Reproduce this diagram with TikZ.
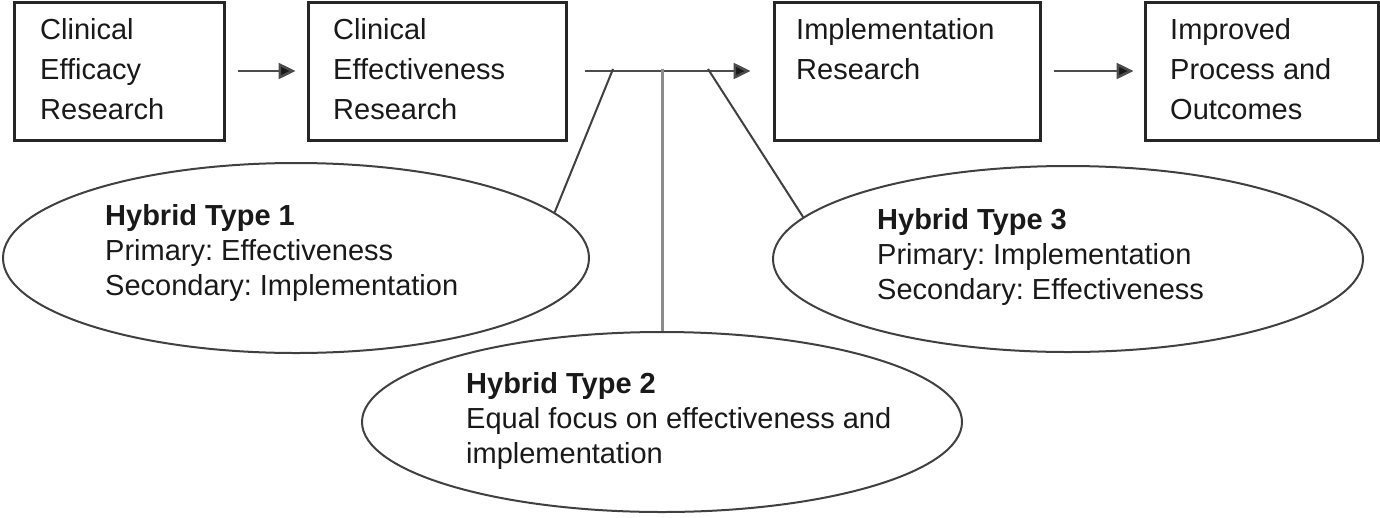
\documentclass[tikz,border=0pt]{standalone}
\usepackage{fontspec}
\setmainfont{Liberation Sans}
\frenchspacing
\usetikzlibrary{arrows.meta,shapes.geometric}
\tikzset{
  box/.style={draw=black!85, line width=3pt, rectangle, minimum height=138pt, inner sep=0pt},
  boxtxt/.style={anchor=base west, inner sep=0pt, align=left, text=black!90,
    font=\fontsize{29}{40}\selectfont},
  oval/.style={draw=black!75, line width=2pt, ellipse, inner sep=0pt},
  ovaltxt/.style={anchor=base west, inner sep=0pt, align=left, text=black!90,
    font=\fontsize{29}{35}\selectfont},
  arr/.style={draw=black!70, line width=2.5pt, -{Triangle[length=17pt,width=16pt,fill=black!90]}},
  stem/.style={draw=black!75, line width=2pt},
}
\begin{document}
\begin{tikzpicture}[x=1pt,y=-1pt]
\useasboundingbox (0,0) rectangle (1380,517);
% boxes
\node[box, minimum width=210pt] (b1) at (119,71) {};
\node[box, minimum width=258pt] (b2) at (437,71) {};
\node[box, minimum width=266pt] (b3) at (907,71) {};
\node[box, minimum width=233pt] (b4) at (1261.5,71) {};
\node[boxtxt] (t1) at (40,119) {Clinical\\Efficacy\\Research};
\node[boxtxt] (t2) at (333,119) {Clinical\\Effectiveness\\Research};
\node[boxtxt] (t3) at (796,79) {Implementation\\Research};
\node[boxtxt] (t4) at (1170,119) {Improved\\Process and\\Outcomes};
% ovals
\node[oval, minimum width=586pt, minimum height=190pt] (e1) at (296,258) {};
\node[oval, minimum width=600pt, minimum height=180pt] (e2) at (662,422) {};
\node[oval, minimum width=590pt, minimum height=186pt] (e3) at (1068,259) {};
\node[ovaltxt] (h1) at (105,295) {\textbf{Hybrid Type 1}\\Primary: Effectiveness\\Secondary: Implementation};
\node[ovaltxt] (h2) at (466,463) {\textbf{Hybrid Type 2}\\Equal focus on effectiveness and\\implementation};
\node[ovaltxt] (h3) at (877,299) {\textbf{Hybrid Type 3}\\Primary: Implementation\\Secondary: Effectiveness};
% connectors
\draw[arr, shorten <=12pt, shorten >=11pt] (b1.east) -- (b2.west);
\draw[arr, shorten <=17pt, shorten >=22pt] (b2.east) -- (b3.west);
\draw[arr, shorten <=12pt, shorten >=10pt] (b3.east) -- (b4.west);
\coordinate (j1) at (613,69);
\coordinate (j2) at (662,69);
\coordinate (j3) at (708,69);
\draw[stem] (j1) -- (e1.10);
\draw[stem, draw=black!45, line width=3pt] (j2) -- (e2.north);
\draw[stem] (j3) -- (e3.171);
\end{tikzpicture}
\end{document}
